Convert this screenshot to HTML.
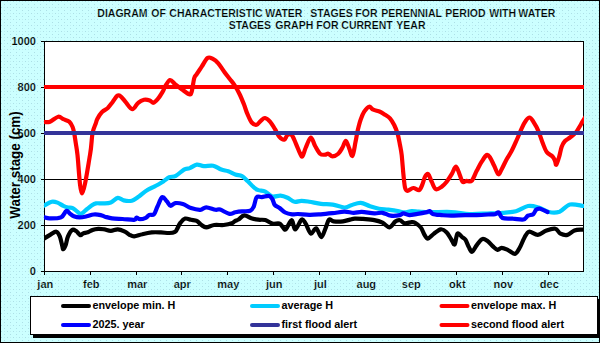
<!DOCTYPE html>
<html><head><meta charset="utf-8"><style>
html,body{margin:0;padding:0;width:600px;height:343px;overflow:hidden;background:#ccffff}
svg{position:absolute;left:0;top:0;display:block}
.t{font-family:"Liberation Sans",sans-serif;font-weight:bold;font-size:11px;fill:#000;stroke:#ccffff;stroke-width:0.2px}
.tt{font-family:"Liberation Sans",sans-serif;font-weight:bold;font-size:10.5px;fill:#000;stroke:#ccffff;stroke-width:0.2px}
.lg{font-family:"Liberation Sans",sans-serif;font-weight:bold;font-size:10.8px;fill:#000}
.yt{font-family:"Liberation Sans",sans-serif;font-weight:bold;font-size:13.4px;fill:#000}
</style></head><body>
<svg width="600" height="343" viewBox="0 0 600 343">
<defs><pattern id="dots" width="6" height="6" patternUnits="userSpaceOnUse">
<rect width="6" height="6" fill="#ccffff"/><rect x="1" y="1" width="1" height="1" fill="#acdfe6"/><rect x="4" y="4" width="1" height="1" fill="#acdfe6"/><rect x="4" y="1" width="1" height="1" fill="#bfeef2"/></pattern></defs>
<rect x="0" y="0" width="600" height="343" fill="url(#dots)"/>
<rect x="0.5" y="0.5" width="599" height="342" fill="none" stroke="#000" stroke-width="1"/>
<rect x="44.5" y="41.5" width="539" height="230" fill="#fff" stroke="#000" stroke-width="1"/>
<line x1="44" x2="583" y1="225.5" y2="225.5" stroke="#000" stroke-width="1"/>
<line x1="44" x2="583" y1="179.5" y2="179.5" stroke="#000" stroke-width="1"/>
<line x1="44" x2="583" y1="133.5" y2="133.5" stroke="#000" stroke-width="1"/>
<line x1="44" x2="583" y1="87.5" y2="87.5" stroke="#000" stroke-width="1"/>
<line x1="41" x2="44.5" y1="271.5" y2="271.5" stroke="#000" stroke-width="1"/>
<text x="35.9" y="275.1" class="t" text-anchor="end">0</text>
<line x1="41" x2="44.5" y1="225.5" y2="225.5" stroke="#000" stroke-width="1"/>
<text x="35.9" y="229.1" class="t" text-anchor="end">200</text>
<line x1="41" x2="44.5" y1="179.5" y2="179.5" stroke="#000" stroke-width="1"/>
<text x="35.9" y="183.1" class="t" text-anchor="end">400</text>
<line x1="41" x2="44.5" y1="133.5" y2="133.5" stroke="#000" stroke-width="1"/>
<text x="35.9" y="137.1" class="t" text-anchor="end">600</text>
<line x1="41" x2="44.5" y1="87.5" y2="87.5" stroke="#000" stroke-width="1"/>
<text x="35.9" y="91.1" class="t" text-anchor="end">800</text>
<line x1="41" x2="44.5" y1="41.5" y2="41.5" stroke="#000" stroke-width="1"/>
<text x="35.9" y="45.1" class="t" text-anchor="end">1000</text>
<line x1="44.5" x2="44.5" y1="271" y2="275" stroke="#000" stroke-width="1"/>
<text x="45.3" y="287.8" class="t" text-anchor="middle">jan</text>
<line x1="90.5" x2="90.5" y1="271" y2="275" stroke="#000" stroke-width="1"/>
<text x="91.3" y="287.8" class="t" text-anchor="middle">feb</text>
<line x1="136.5" x2="136.5" y1="271" y2="275" stroke="#000" stroke-width="1"/>
<text x="137.3" y="287.8" class="t" text-anchor="middle">mar</text>
<line x1="181.5" x2="181.5" y1="271" y2="275" stroke="#000" stroke-width="1"/>
<text x="182.3" y="287.8" class="t" text-anchor="middle">apr</text>
<line x1="227.5" x2="227.5" y1="271" y2="275" stroke="#000" stroke-width="1"/>
<text x="228.3" y="287.8" class="t" text-anchor="middle">may</text>
<line x1="273.5" x2="273.5" y1="271" y2="275" stroke="#000" stroke-width="1"/>
<text x="274.3" y="287.8" class="t" text-anchor="middle">jun</text>
<line x1="319.5" x2="319.5" y1="271" y2="275" stroke="#000" stroke-width="1"/>
<text x="320.3" y="287.8" class="t" text-anchor="middle">jul</text>
<line x1="365.5" x2="365.5" y1="271" y2="275" stroke="#000" stroke-width="1"/>
<text x="366.3" y="287.8" class="t" text-anchor="middle">aug</text>
<line x1="410.5" x2="410.5" y1="271" y2="275" stroke="#000" stroke-width="1"/>
<text x="411.3" y="287.8" class="t" text-anchor="middle">sep</text>
<line x1="456.5" x2="456.5" y1="271" y2="275" stroke="#000" stroke-width="1"/>
<text x="457.3" y="287.8" class="t" text-anchor="middle">okt</text>
<line x1="502.5" x2="502.5" y1="271" y2="275" stroke="#000" stroke-width="1"/>
<text x="503.3" y="287.8" class="t" text-anchor="middle">nov</text>
<line x1="548.5" x2="548.5" y1="271" y2="275" stroke="#000" stroke-width="1"/>
<text x="549.3" y="287.8" class="t" text-anchor="middle">dec</text>
<clipPath id="pc"><rect x="44" y="41" width="540" height="231"/></clipPath>
<g fill="none" stroke-linejoin="round" stroke-linecap="round" clip-path="url(#pc)">
<path d="M41.0 240.3C41.6 239.9 43.1 239.1 44.7 238.1C46.3 237.1 48.6 235.7 50.5 234.6C52.4 233.5 54.8 231.4 56.3 231.7C57.8 232.0 58.8 234.0 59.8 236.3C60.8 238.6 61.6 243.5 62.2 245.7C62.8 247.8 62.7 249.3 63.3 249.2C63.9 249.1 64.9 247.2 65.7 245.1C66.5 242.9 66.9 238.8 68.0 236.3C69.1 233.8 70.7 230.8 72.1 229.9C73.5 229.0 74.8 230.2 76.2 231.1C77.6 232.0 79.1 234.8 80.3 235.2C81.5 235.6 82.0 233.9 83.2 233.4C84.5 232.9 86.2 232.9 87.8 232.3C89.3 231.7 90.8 230.5 92.5 229.9C94.2 229.3 96.3 228.9 98.3 228.8C100.2 228.7 102.1 229.0 104.2 229.3C106.3 229.7 108.5 230.9 110.8 230.9C113.1 230.9 115.5 229.2 117.8 229.3C120.1 229.4 122.8 230.7 124.8 231.6C126.8 232.5 127.9 234.0 129.5 234.8C131.1 235.6 132.1 236.4 134.2 236.3C136.3 236.2 139.4 234.8 142.3 234.2C145.2 233.5 148.6 232.7 151.7 232.4C154.8 232.1 158.1 232.3 161.0 232.4C163.9 232.5 166.9 233.1 169.2 233.0C171.5 232.9 173.7 232.5 175.0 231.8C176.3 231.2 176.1 230.6 177.0 229.1C177.9 227.6 179.1 224.4 180.5 222.7C181.9 220.9 183.4 219.1 185.2 218.6C186.9 218.1 189.1 219.4 191.0 219.8C192.9 220.2 195.1 220.0 196.8 220.9C198.6 221.8 199.9 223.9 201.5 225.0C203.1 226.1 204.1 227.3 206.2 227.3C208.3 227.3 211.4 225.4 214.3 225.0C217.2 224.6 220.8 225.3 223.7 225.0C226.6 224.7 229.9 224.0 231.8 223.3C233.7 222.6 233.9 221.6 235.0 221.0C236.1 220.4 236.9 220.4 238.5 219.5C240.1 218.6 242.2 215.6 244.3 215.4C246.4 215.2 249.0 217.6 251.3 218.3C253.6 219.0 256.0 219.4 258.3 219.7C260.6 220.0 263.0 219.4 265.3 220.1C267.6 220.8 270.0 223.0 272.3 223.6C274.6 224.2 277.6 223.0 279.3 223.6C281.1 224.2 281.7 226.1 282.8 227.1C283.9 228.1 284.3 230.6 285.8 229.4C287.3 228.2 290.1 220.2 291.7 220.2C293.3 220.2 293.5 229.6 295.2 229.5C296.9 229.4 299.9 220.6 301.6 219.6C303.4 218.6 304.1 221.4 305.7 223.7C307.2 226.0 309.1 232.8 310.9 233.6C312.6 234.4 314.4 227.7 316.2 228.3C317.9 228.9 319.8 237.1 321.4 237.1C322.9 237.1 324.2 231.2 325.5 228.3C326.8 225.4 327.6 220.8 329.0 219.6C330.4 218.4 331.4 221.0 333.7 221.3C336.0 221.6 340.3 221.6 343.0 221.3C345.7 221.0 348.0 220.1 350.0 219.6C352.0 219.1 352.6 218.7 354.8 218.6C357.0 218.5 359.8 218.7 363.0 218.9C366.2 219.2 371.1 219.5 374.3 220.1C377.6 220.7 380.0 221.5 382.5 222.7C385.0 223.9 387.4 227.5 389.5 227.3C391.6 227.1 393.6 222.7 395.3 221.5C397.1 220.3 398.4 220.0 400.0 220.3C401.6 220.6 402.8 223.0 404.7 223.3C406.6 223.6 410.0 222.2 411.7 222.1C413.4 222.0 413.5 221.9 415.0 222.8C416.5 223.7 419.2 225.6 420.8 227.5C422.4 229.4 423.1 232.7 424.3 234.5C425.5 236.3 426.2 238.7 427.8 238.6C429.4 238.5 431.6 235.4 433.7 233.9C435.8 232.4 438.6 229.6 440.7 229.3C442.8 229.0 444.8 230.5 446.5 232.2C448.2 233.8 449.8 237.2 451.2 239.2C452.6 241.2 453.7 245.3 454.7 244.4C455.7 243.5 456.2 234.9 457.4 233.7C458.6 232.5 460.8 236.1 462.1 237.1C463.4 238.1 464.3 238.0 465.4 239.7C466.5 241.4 467.7 245.1 468.8 247.1C469.9 249.1 470.8 252.1 472.1 251.8C473.4 251.5 475.1 247.2 476.8 245.1C478.5 243.0 480.4 239.8 482.2 239.1C484.0 238.4 485.7 239.9 487.5 241.1C489.3 242.3 491.2 244.9 492.9 246.4C494.6 247.9 496.2 249.6 497.6 249.8C499.1 250.0 499.9 247.8 501.6 247.8C503.3 247.8 505.4 248.8 507.6 249.8C509.8 250.8 513.0 254.1 515.0 253.8C517.0 253.5 518.1 250.5 519.7 247.8C521.3 245.1 522.8 240.4 524.4 237.7C526.0 235.0 526.9 232.2 529.1 231.7C531.3 231.2 534.9 235.1 537.8 234.9C540.7 234.7 543.6 231.5 546.5 230.5C549.4 229.5 553.0 228.3 555.3 228.8C557.6 229.3 558.5 232.7 560.5 233.7C562.5 234.7 565.2 235.4 567.5 234.9C569.8 234.4 572.0 231.4 574.5 230.5C577.0 229.6 580.3 229.8 582.4 229.6C584.5 229.4 586.2 229.4 587.0 229.4" stroke="#000" stroke-width="4.2"/>
<path d="M41.0 207.0C41.6 206.7 42.9 206.1 44.7 205.2C46.5 204.3 49.6 202.1 51.7 201.7C53.8 201.3 55.6 201.9 57.5 202.6C59.4 203.3 61.5 205.0 63.3 205.8C65.0 206.6 66.4 207.1 68.0 207.5C69.6 207.9 71.2 207.4 72.7 208.1C74.2 208.8 76.0 210.6 77.3 211.6C78.6 212.6 79.2 214.3 80.8 213.9C82.4 213.5 85.0 210.7 86.7 209.3C88.5 208.0 89.8 206.8 91.3 205.8C92.8 204.8 94.0 203.8 96.0 203.4C98.0 203.0 100.5 203.6 103.0 203.4C105.5 203.2 108.3 203.3 110.8 202.4C113.3 201.5 115.6 198.1 117.8 197.8C120.0 197.5 121.4 199.9 123.7 200.4C126.0 200.9 129.3 201.3 131.8 200.7C134.3 200.1 136.3 198.3 138.8 196.6C141.3 194.8 144.3 191.9 147.0 190.2C149.7 188.4 152.5 187.6 155.2 186.1C157.9 184.6 161.0 182.9 163.3 181.4C165.6 179.9 167.1 178.2 169.2 177.3C171.3 176.4 173.3 177.1 175.8 175.8C178.3 174.5 181.7 170.9 184.0 169.6C186.3 168.3 187.7 168.9 189.8 168.1C191.9 167.3 194.5 164.9 196.8 164.6C199.1 164.3 201.1 165.9 203.8 166.1C206.5 166.3 210.3 165.1 213.2 165.7C216.1 166.3 218.8 168.7 221.3 169.6C223.8 170.5 226.0 170.5 228.3 171.3C230.6 172.1 233.0 173.7 235.3 174.5C237.6 175.3 239.9 175.0 242.0 176.1C244.1 177.2 245.9 179.5 247.8 181.3C249.8 183.2 251.9 185.7 253.7 187.2C255.4 188.7 256.4 189.4 258.3 190.1C260.2 190.8 263.0 190.5 265.3 191.6C267.6 192.7 269.8 195.8 272.3 196.5C274.8 197.2 278.0 195.4 280.5 195.6C283.0 195.8 285.2 196.7 287.5 197.7C289.8 198.7 292.2 201.3 294.5 201.8C296.8 202.3 299.0 200.8 301.5 200.8C304.0 200.8 306.1 201.2 309.3 201.7C312.6 202.2 317.1 203.3 321.0 203.8C324.9 204.3 328.8 204.0 332.7 204.6C336.6 205.2 341.2 207.4 344.3 207.5C347.4 207.6 348.6 206.0 351.3 205.2C354.0 204.4 357.6 202.6 360.7 202.8C363.8 203.0 366.9 205.2 370.0 206.2C373.1 207.2 375.9 208.1 379.0 208.7C382.1 209.3 385.2 209.2 388.3 209.6C391.4 210.0 395.0 210.5 397.7 211.0C400.4 211.5 402.4 212.4 404.7 212.4C407.0 212.4 409.4 211.1 411.7 211.0C414.0 210.9 415.6 211.4 418.7 211.6C421.8 211.8 424.6 212.1 430.0 212.2C435.4 212.3 444.4 211.7 451.0 212.0C457.6 212.3 463.7 213.8 469.7 214.0C475.7 214.2 481.7 213.7 487.2 213.5C492.7 213.3 497.7 213.2 502.5 212.8C507.3 212.4 511.8 212.3 516.0 211.2C520.2 210.1 524.2 206.6 528.0 206.0C531.8 205.4 535.0 206.5 538.5 207.5C542.0 208.5 545.5 211.3 549.0 212.0C552.5 212.7 556.0 212.9 559.5 211.7C563.0 210.4 566.0 205.4 570.0 204.5C574.0 203.6 580.7 205.7 583.5 206.0C586.3 206.3 586.4 206.2 587.0 206.3" stroke="#00ccff" stroke-width="4.2"/>
<path d="M40.0 122.3C40.7 122.2 42.3 122.1 44.0 122.0C45.7 121.9 47.6 122.6 50.0 121.7C52.4 120.8 56.1 117.1 58.3 116.7C60.5 116.3 61.5 118.4 63.3 119.2C65.1 120.0 67.7 120.5 69.2 121.7C70.7 123.0 71.7 124.8 72.5 126.7C73.3 128.6 73.7 130.5 74.2 133.3C74.8 136.1 75.2 139.7 75.8 143.3C76.3 146.9 76.5 146.6 77.5 155.0C78.5 163.4 79.9 193.5 82.0 193.5C84.1 193.5 88.2 165.0 90.0 155.0C91.8 145.0 91.5 138.6 92.5 133.3C93.5 128.0 95.0 125.7 95.8 123.3C96.6 120.9 96.3 121.0 97.3 119.1C98.3 117.2 100.2 113.9 102.0 112.1C103.8 110.2 106.0 109.7 107.8 108.0C109.5 106.3 110.9 104.2 112.5 102.2C114.1 100.2 115.8 96.8 117.2 95.8C118.6 94.8 119.4 95.3 120.7 96.3C122.0 97.3 123.4 99.4 125.3 101.6C127.2 103.8 130.2 109.0 132.3 109.2C134.5 109.4 136.2 104.4 138.2 102.8C140.1 101.2 142.1 100.2 144.0 99.8C145.9 99.4 148.2 99.9 149.8 100.4C151.4 100.9 151.9 103.1 153.3 102.8C154.7 102.5 156.4 100.5 158.0 98.7C159.6 96.9 161.5 93.7 162.7 91.7C163.9 89.7 163.8 88.7 165.0 86.7C166.2 84.8 168.3 80.4 170.0 80.0C171.7 79.6 173.1 82.7 175.0 84.2C176.9 85.7 179.3 87.5 181.7 89.2C184.1 90.9 187.5 93.8 189.2 94.2C190.9 94.6 190.9 94.4 191.7 91.7C192.5 89.0 193.4 81.2 194.2 78.3C195.0 75.4 195.4 76.1 196.7 74.2C197.9 72.3 199.9 69.4 201.7 66.7C203.5 64.0 205.7 59.3 207.5 58.0C209.3 56.7 210.7 57.8 212.5 58.7C214.3 59.6 216.4 61.1 218.3 63.3C220.2 65.5 222.2 69.0 224.2 71.7C226.1 74.4 228.2 76.9 230.0 79.2C231.8 81.5 233.3 83.2 235.0 85.8C236.7 88.4 238.5 91.8 240.0 95.0C241.5 98.2 242.9 101.8 244.2 105.0C245.4 108.2 246.2 111.3 247.5 114.2C248.8 117.1 250.2 120.8 251.7 122.5C253.2 124.2 255.2 125.0 256.7 124.7C258.2 124.4 259.4 121.9 260.8 120.8C262.2 119.7 263.5 117.8 265.0 118.0C266.5 118.2 268.3 119.8 270.0 121.7C271.7 123.6 273.5 126.7 275.0 129.2C276.5 131.7 277.7 134.9 279.2 136.7C280.7 138.4 282.8 140.0 284.2 139.7C285.6 139.4 286.2 135.8 287.5 135.0C288.8 134.2 290.3 133.6 291.7 135.0C293.1 136.4 294.4 140.2 295.8 143.3C297.2 146.4 298.9 151.1 300.0 153.3C301.1 155.5 301.5 157.3 302.5 156.3C303.5 155.3 304.4 150.6 305.8 147.5C307.2 144.4 309.3 137.8 310.8 137.5C312.3 137.2 313.5 143.1 315.0 145.8C316.5 148.5 318.3 152.2 320.0 153.7C321.7 155.2 323.6 154.7 325.0 154.7C326.4 154.7 327.1 153.4 328.3 153.7C329.6 154.0 330.8 156.3 332.5 156.3C334.2 156.3 336.6 155.2 338.3 153.7C340.0 152.2 341.2 149.7 342.5 147.5C343.8 145.3 344.7 140.7 345.8 140.8C346.9 140.9 348.1 145.8 349.2 148.3C350.3 150.8 351.4 156.9 352.5 155.8C353.6 154.8 354.6 146.3 355.5 142.0C356.4 137.7 356.9 133.8 357.8 130.0C358.7 126.2 359.7 122.2 360.8 119.2C361.9 116.2 362.8 113.8 364.2 111.7C365.6 109.6 367.7 107.0 369.2 106.7C370.7 106.4 371.5 108.9 373.3 109.7C375.1 110.5 378.1 110.9 380.0 111.7C381.9 112.5 383.3 113.6 385.0 114.7C386.7 115.8 388.5 116.6 390.0 118.3C391.5 120.0 392.9 122.5 394.2 125.0C395.4 127.5 396.5 130.0 397.5 133.3C398.5 136.6 399.3 141.4 400.0 145.0C400.7 148.6 401.1 150.3 401.7 155.0C402.2 159.7 402.8 167.9 403.3 173.3C403.9 178.7 404.3 184.6 405.0 187.5C405.7 190.4 406.1 190.7 407.5 190.8C408.9 190.9 411.4 188.1 413.3 188.0C415.2 187.9 417.7 190.6 419.2 190.0C420.7 189.4 421.5 186.4 422.5 184.2C423.5 182.0 424.0 178.4 425.0 176.7C426.0 175.0 427.2 173.4 428.3 174.2C429.4 175.0 430.4 179.2 431.7 181.7C432.9 184.2 434.1 188.4 435.8 189.2C437.5 190.0 439.9 187.9 441.7 186.7C443.5 185.4 445.0 183.8 446.7 181.7C448.4 179.6 450.2 176.7 451.7 174.2C453.2 171.7 454.6 166.8 455.8 166.7C457.1 166.5 458.1 170.8 459.2 173.3C460.3 175.8 461.2 180.4 462.5 181.7C463.8 182.9 465.2 181.0 466.7 180.8C468.2 180.7 470.0 182.5 471.7 180.8C473.4 179.1 475.0 174.0 476.7 170.8C478.4 167.6 480.0 164.3 481.7 161.7C483.4 159.1 485.3 155.7 486.7 155.0C488.1 154.3 488.8 155.7 490.0 157.5C491.2 159.3 492.8 163.0 494.2 165.8C495.6 168.6 497.1 173.6 498.3 174.2C499.6 174.8 500.3 171.7 501.7 169.2C503.1 166.7 505.0 162.3 506.7 159.2C508.4 156.1 510.0 154.0 511.7 150.8C513.4 147.6 515.0 143.8 516.7 140.0C518.4 136.2 520.2 131.5 521.7 128.3C523.2 125.1 524.5 122.6 525.8 120.8C527.1 119.0 528.5 117.3 529.7 117.5C531.0 117.7 531.9 119.5 533.3 121.7C534.7 123.9 536.8 127.3 538.3 130.8C539.8 134.3 541.1 139.0 542.5 142.5C543.9 146.0 545.0 149.7 546.7 152.0C548.4 154.3 551.1 155.0 552.5 156.5C553.9 158.0 554.4 159.4 555.0 160.8C555.6 162.2 555.6 165.4 556.3 164.7C557.0 164.0 558.3 159.7 559.2 156.7C560.1 153.7 560.7 149.3 561.7 146.7C562.7 144.1 563.6 142.5 565.0 141.0C566.4 139.5 568.2 138.9 570.0 137.5C571.8 136.1 573.7 135.1 575.8 132.5C577.9 129.9 580.8 124.5 582.5 121.7C584.2 119.0 585.4 117.0 586.0 116.0" stroke="#ff0000" stroke-width="4.2"/>
<path d="M41.0 217.0C41.6 217.1 43.3 217.2 44.7 217.4C46.1 217.6 46.6 218.4 49.3 218.4C52.0 218.4 58.2 218.6 61.0 217.4C63.8 216.2 64.8 211.6 66.3 211.0C67.8 210.4 69.0 213.0 70.3 213.9C71.5 214.8 72.2 215.7 73.8 216.3C75.4 216.9 77.5 217.4 79.7 217.4C81.9 217.4 84.4 216.8 86.7 216.3C89.0 215.8 91.4 214.7 93.7 214.5C96.0 214.3 98.8 214.7 100.7 215.1C102.6 215.5 103.1 216.1 105.0 216.7C106.9 217.2 109.1 218.0 112.0 218.4C114.9 218.8 118.8 218.8 122.5 219.0C126.2 219.2 131.9 220.1 134.2 219.9C136.5 219.7 135.5 217.7 136.5 217.6C137.5 217.5 138.4 219.2 140.0 219.2C141.6 219.2 144.2 218.5 145.8 217.8C147.4 217.1 147.9 215.5 149.3 214.9C150.7 214.3 152.6 215.7 154.0 214.3C155.4 212.9 156.1 209.3 157.5 206.5C158.9 203.7 160.6 198.1 162.2 197.2C163.8 196.3 165.4 199.9 166.8 201.3C168.2 202.7 169.1 205.5 170.5 205.8C171.9 206.1 173.2 203.4 175.3 203.1C177.4 202.8 180.2 203.2 182.8 204.0C185.4 204.8 188.1 207.1 191.0 208.1C193.9 209.1 197.8 209.9 200.3 209.8C202.8 209.7 203.7 207.3 206.2 207.3C208.7 207.3 213.2 209.4 215.5 209.8C217.8 210.2 217.9 208.9 220.2 209.6C222.5 210.3 227.0 213.5 229.5 213.9C232.0 214.3 233.2 212.6 235.3 212.2C237.4 211.8 239.5 211.5 242.0 211.3C244.5 211.1 248.2 211.6 250.2 210.8C252.1 210.0 252.6 208.9 253.7 206.7C254.8 204.4 255.3 198.9 256.6 197.3C258.0 195.7 259.8 197.3 261.8 197.1C263.8 196.9 267.1 195.6 268.8 195.9C270.6 196.2 271.3 197.5 272.3 199.0C273.3 200.5 273.5 203.4 274.7 204.9C275.9 206.4 277.6 206.5 279.3 207.8C281.1 209.1 283.1 211.4 285.2 212.5C287.3 213.6 290.1 214.1 292.2 214.3C294.3 214.6 295.2 213.9 298.0 214.0C300.8 214.1 305.4 214.8 309.2 214.9C313.0 215.0 316.9 214.6 320.8 214.3C324.7 214.0 328.6 213.6 332.5 213.2C336.4 212.8 340.8 211.7 344.3 211.6C347.8 211.5 350.8 212.8 353.7 212.8C356.6 212.9 358.4 211.8 361.8 211.9C365.2 212.0 370.9 213.2 374.3 213.3C377.8 213.5 379.8 212.4 382.5 212.8C385.2 213.2 387.8 215.3 390.7 215.7C393.6 216.1 397.9 215.5 400.0 215.1C402.1 214.7 401.9 213.3 403.5 213.3C405.1 213.3 407.0 215.0 409.3 215.1C411.6 215.2 414.8 214.3 417.5 213.9C420.2 213.5 423.6 212.9 425.7 212.4C427.8 211.9 428.6 210.8 429.8 211.0C431.0 211.2 430.7 213.2 432.7 213.9C434.7 214.6 438.6 214.8 441.7 215.1C444.8 215.4 447.1 215.7 451.0 215.7C454.9 215.7 460.7 215.2 465.0 215.1C469.3 215.0 472.8 215.2 476.7 215.1C480.6 215.0 485.2 214.7 488.3 214.5C491.4 214.3 493.3 214.5 495.0 214.2C496.7 213.8 497.4 211.8 498.7 212.4C499.9 213.0 500.1 216.9 502.5 218.0C504.9 219.1 509.5 218.4 513.0 218.7C516.5 218.9 521.0 220.0 523.5 219.5C526.0 219.0 526.4 216.6 528.0 215.7C529.6 214.8 531.8 215.2 533.2 214.2C534.6 213.2 535.1 210.6 536.2 209.7C537.3 208.8 538.1 208.3 540.0 208.7C541.9 209.1 546.2 211.4 547.5 212.0" stroke="#0000ff" stroke-width="4.2"/>
</g>
<rect x="44" y="131" width="540" height="4" fill="#333399"/>
<rect x="44" y="85" width="540" height="4" fill="#ff0000"/>
<text x="97.3" y="16.7" class="tt">DIAGRAM</text>
<text x="151.3" y="16.7" class="tt">OF</text>
<text x="169.3" y="16.7" class="tt">CHARACTERISTIC</text>
<text x="265.3" y="16.7" class="tt">WATER</text>
<text x="310.3" y="16.7" class="tt">STAGES</text>
<text x="355.3" y="16.7" class="tt">FOR</text>
<text x="381.3" y="16.7" class="tt">PERENNIAL</text>
<text x="445.3" y="16.7" class="tt">PERIOD</text>
<text x="489.3" y="16.7" class="tt">WITH</text>
<text x="518.3" y="16.7" class="tt">WATER</text>
<text x="228.7" y="28.7" class="tt">STAGES</text>
<text x="275.3" y="28.7" class="tt">GRAPH</text>
<text x="316.3" y="28.7" class="tt">FOR</text>
<text x="341.3" y="28.7" class="tt">CURRENT</text>
<text x="396.3" y="28.7" class="tt">YEAR</text>
<text transform="translate(20.2 165) rotate(-90) scale(1 1.12)" class="yt" text-anchor="middle">Water stage (cm)</text>
<rect x="33" y="299" width="567" height="39" fill="#000"/>
<rect x="30.5" y="296.5" width="567" height="38" fill="#fff" stroke="#000" stroke-width="1"/>
<line x1="63.0" x2="89.0" y1="305.9" y2="305.9" stroke="#000" stroke-width="4" stroke-linecap="round"/>
<text x="92.5" y="309.2" class="lg">envelope min. H</text>
<line x1="252.0" x2="278.0" y1="305.9" y2="305.9" stroke="#00ccff" stroke-width="4" stroke-linecap="round"/>
<text x="281.5" y="309.2" class="lg">average H</text>
<line x1="441.5" x2="467.5" y1="305.9" y2="305.9" stroke="#ff0000" stroke-width="4" stroke-linecap="round"/>
<text x="471.0" y="309.2" class="lg">envelope max. H</text>
<line x1="63.0" x2="89.0" y1="325.1" y2="325.1" stroke="#0000ff" stroke-width="4" stroke-linecap="round"/>
<text x="92.5" y="328.4" class="lg">2025. year</text>
<line x1="252.0" x2="278.0" y1="325.1" y2="325.1" stroke="#333399" stroke-width="4" stroke-linecap="round"/>
<text x="281.5" y="328.4" class="lg">first flood alert</text>
<line x1="441.5" x2="467.5" y1="325.1" y2="325.1" stroke="#ff0000" stroke-width="4" stroke-linecap="round"/>
<text x="471.0" y="328.4" class="lg">second flood alert</text>
</svg>
</body></html>
